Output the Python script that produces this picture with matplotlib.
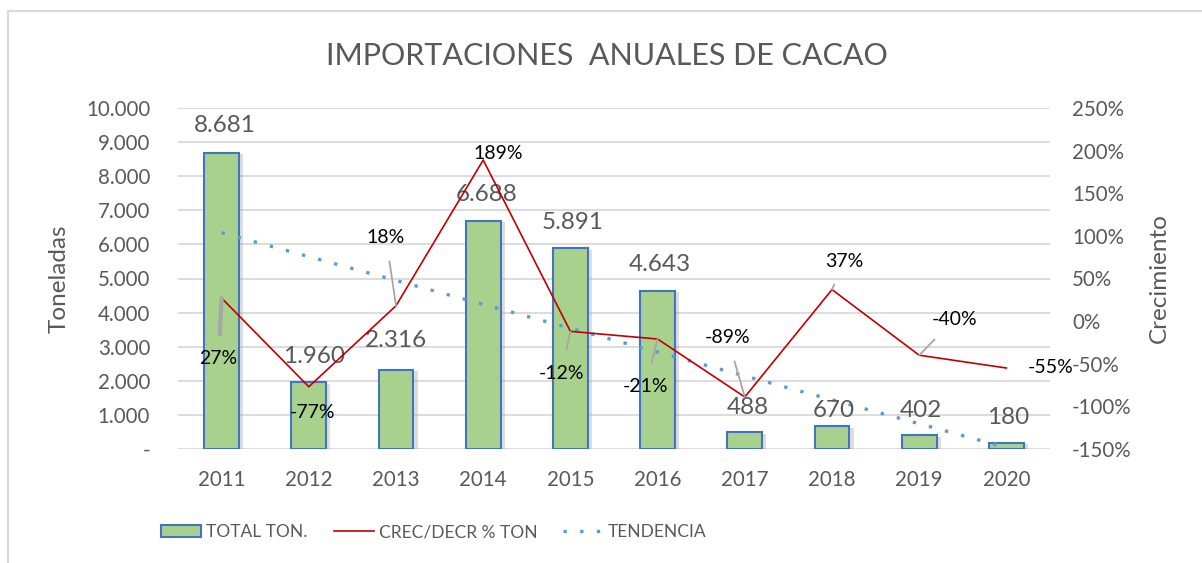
import matplotlib.pyplot as plt
import matplotlib.patheffects as pe
from matplotlib.lines import Line2D
from matplotlib.patches import Patch
from matplotlib import font_manager
import numpy as np

plt.rcParams['font.family'] = ['Lato', 'DejaVu Sans']

years = ['2011', '2012', '2013', '2014', '2015', '2016', '2017', '2018', '2019', '2020']
total_ton = [8681, 1960, 2316, 6688, 5891, 4643, 488, 670, 402, 180]
crec_pct = [27, -77, 18, 189, -12, -21, -89, 37, -40, -55]
left_ticks = [0, 1000, 2000, 3000, 4000, 5000, 6000, 7000, 8000, 9000, 10000]
right_ticks = [-150, -100, -50, 0, 50, 100, 150, 200, 250]

# label offsets in pixels (dx, dy) -- manual placement like the excel chart
bar_lbl_off = [(3, 27), (5, 26), (0, 30), (3, 26), (2, 26), (2, 26), (3, 25), (2, 16), (2, 25), (2, 25)]
pct_lbl_off = [(-3, -60), (4, -26), (-10, 68), (15, 7), (-9, -42), (-12, -47), (-17, 59), (12, 28), (35, 36), (44, 1)]
leader = [True, False, True, False, True, True, True, True, True, False]

gray_txt = '#595959'

fig = plt.figure(figsize=(12.02, 5.63), dpi=100)
ax = fig.add_axes([178 / 1202, 1 - 449 / 563, (1050 - 178) / 1202, (449 - 108) / 563])
ax2 = ax.twinx()

x = np.arange(len(years))

bars = ax.bar(x, total_ton, width=0.4, color='#A9D18E', edgecolor='#4472C4', linewidth=1.5, zorder=3,
              path_effects=[pe.SimplePatchShadow(offset=(3, -1), shadow_rgbFace='#a0a0a0', alpha=0.35), pe.Normal()])

# linear trend of the bars
coef = np.polyfit(x, total_ton, 1)
trend = np.polyval(coef, x)
ax.plot(x, trend, color='#5B9BD5', linewidth=2.4, linestyle=(0, (1, 4)), zorder=4)

ax.set_xlim(-0.5, len(years) - 0.5)
ax.set_ylim(0, 10000)
ax.set_yticks(left_ticks)
ax.set_yticklabels(['-' if t == 0 else '{:,}'.format(t).replace(',', '.') for t in left_ticks])
ax.set_xticks(x)
ax.set_xticklabels(years)
ax.grid(axis='y', color='#D9D9D9', linewidth=1.3, zorder=0)
ax.set_axisbelow(True)
ax.tick_params(axis='both', length=0, labelsize=14.8, colors=gray_txt)
ax.tick_params(axis='y', pad=20)
ax.tick_params(axis='x', pad=15)
for s in ax.spines.values():
    s.set_visible(False)
ax.set_ylabel('Toneladas', fontsize=17.5, color=gray_txt, labelpad=12)

ax2.plot(x, crec_pct, color='#C00000', linewidth=1.2, zorder=5)
ax2.set_ylim(-150, 250)
ax2.set_yticks(right_ticks)
ax2.set_yticklabels(['{}%'.format(t) for t in right_ticks])
ax2.tick_params(axis='y', length=0, labelsize=14.8, colors=gray_txt, pad=16)
for s in ax2.spines.values():
    s.set_visible(False)
ax2.set_ylabel('Crecimiento', fontsize=17.5, color=gray_txt, labelpad=12)

for i, v in enumerate(total_ton):
    dx, dy = bar_lbl_off[i]
    ax.annotate('{:,}'.format(v).replace(',', '.'), (x[i], v), xytext=(dx * 0.72, dy * 0.72),
                textcoords='offset points', ha='center', va='center', fontsize=17.5, color=gray_txt, zorder=6)

for i, v in enumerate(crec_pct):
    dx, dy = pct_lbl_off[i]
    arrow = None
    if leader[i]:
        arrow = dict(arrowstyle='-', color='#A6A6A6', lw=3 if i == 0 else 1.3, shrinkA=9, shrinkB=0)
    ax2.annotate('{}%'.format(v), (x[i], v), xytext=(dx * 0.72, dy * 0.72),
                 textcoords='offset points', ha='center', va='center', fontsize=14, color='black', zorder=7,
                 arrowprops=arrow)

fig.text(607 / 1202, 1 - 56 / 563, 'IMPORTACIONES  ANUALES DE CACAO', ha='center', va='center',
         fontsize=22, color=gray_txt)

installed = {f.name for f in font_manager.fontManager.ttflist}
if 'Liberation Sans Narrow' in installed:
    leg_font = dict(family='Liberation Sans Narrow', size=14)
else:
    leg_font = dict(family='Lato', size=12.5)
em = leg_font['size'] * 100 / 72

handles = [Patch(facecolor='#A9D18E', edgecolor='#4472C4', linewidth=1.5),
           Line2D([0], [0], color='#C00000', linewidth=1.2),
           Line2D([0], [0], color='#5B9BD5', linewidth=2.4, linestyle=(0, (1, 4)))]
leg = fig.legend(handles, ['TOTAL TON.', 'CREC/DECR % TON', 'TENDENCIA'], loc='center',
                 bbox_to_anchor=(434 / 1202, 1 - 532 / 563), ncol=3, frameon=False, prop=leg_font,
                 borderpad=0, borderaxespad=0, handlelength=40 / em, handletextpad=5 / em,
                 columnspacing=26 / em)
for t in leg.get_texts():
    t.set_color(gray_txt)

# chart border like the excel frame
fig.add_artist(Line2D([8 / 1202, 8 / 1202], [0, 1 - 11 / 563], color='#D9D9D9', linewidth=1.5))
fig.add_artist(Line2D([8 / 1202, 1], [1 - 11 / 563, 1 - 11 / 563], color='#D9D9D9', linewidth=1.5))

plt.savefig('out.png', dpi=100)
